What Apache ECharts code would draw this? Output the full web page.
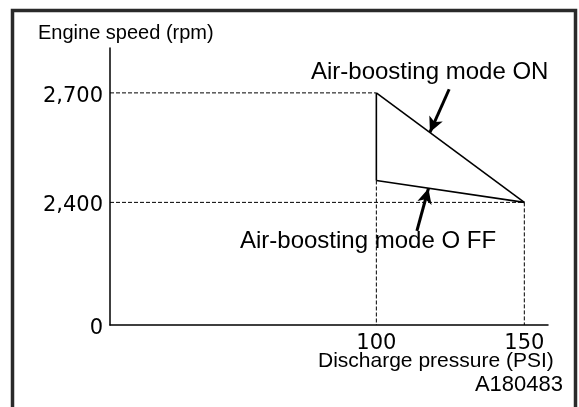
<!DOCTYPE html>
<html>
<head>
<meta charset="utf-8">
<style>
  html, body { margin: 0; padding: 0; background: #fff; }
  #chart { width: 579px; height: 407px; }
</style>
<script src="https://cdn.jsdelivr.net/npm/echarts@6/dist/echarts.min.js"></script>
</head>
<body>
<div id="chart"></div>
<script>
// Discharge pressure (PSI) at the two operating points
const pressures = [100, 150];
// Engine speed (rpm) at those pressures
const speedBoostOn = [2700, 2400];
const speedBoostOff = [2460, 2400];

// The speed axis is broken: its bottom is labelled 0
const speedAxisFloor = 2064;
const speedAxisTop = 2823;
const pressureAxisStart = 10;
const pressureAxisEnd = 158;

const speedTicks = [speedAxisFloor, 2400, 2700];
const speedTickLabels = ['0', '2,400', '2,700'];
const pressureTicks = [100, 150];
const pressureTickLabels = ['100', '150'];

const seriesNames = ['Air-boosting mode ON', 'Air-boosting mode O FF'];

// Arrow annotations [tail, head] in data units
const arrowOn = [[124.6, 2710], [118.1, 2592]];
const arrowOff = [[113.7, 2322], [117.6, 2438]];

const chart = echarts.init(document.getElementById('chart'), null, { renderer: 'canvas' });

const solid = { color: '#000', width: 1.6, type: 'solid' };
const dashed = { color: '#000', width: 1, type: [4, 2] };
const uiFont = '"Liberation Sans", Arial, sans-serif';
const tickFont = '"DejaVu Sans", Verdana, sans-serif';

function path(points, style, z) {
  return {
    type: 'line', data: points, symbol: 'none', silent: true,
    lineStyle: style, z: z || 2, animation: false
  };
}

function arrow(pts) {
  return {
    type: 'line', data: [], symbol: 'none', silent: true, animation: false,
    markLine: {
      silent: true, animation: false,
      symbol: ['none', 'arrow'], symbolSize: [11, 15],
      label: { show: false },
      lineStyle: { color: '#000', width: 3, type: 'solid' },
      data: [[{ coord: pts[0] }, { coord: pts[1] }]]
    }
  };
}

const option = {
  backgroundColor: '#fff',
  animation: false,
  grid: { left: 110, right: 31, top: 48, bottom: 82, containLabel: false },
  xAxis: {
    type: 'value', min: pressureAxisStart, max: pressureAxisEnd,
    axisLine: { show: true, lineStyle: { color: '#000', width: 1.5 } },
    axisTick: { show: false },
    splitLine: { show: false },
    axisLabel: {
      customValues: pressureTicks,
      formatter: v => pressureTickLabels[pressureTicks.indexOf(v)],
      color: '#000', fontFamily: tickFont, fontSize: 21, margin: 8
    }
  },
  yAxis: {
    type: 'value', min: speedAxisFloor, max: speedAxisTop,
    axisLine: { show: true, lineStyle: { color: '#000', width: 1.5 } },
    axisTick: { show: false },
    splitLine: { show: false },
    axisLabel: {
      customValues: speedTicks,
      formatter: v => '{t|' + speedTickLabels[speedTicks.indexOf(v)] + '}',
      margin: 7,
      rich: {
        t: {
          color: '#000', fontFamily: tickFont, fontSize: 21,
          lineHeight: 21, padding: [7, 0, 0, 0]
        }
      }
    }
  },
  series: [
    // guide lines to the axes
    path([[pressureAxisStart, speedBoostOn[0]], [pressures[0], speedBoostOn[0]]], dashed, 1),
    path([[pressureAxisStart, speedBoostOn[1]], [pressures[1], speedBoostOn[1]]], dashed, 1),
    path([[pressures[0], speedBoostOff[0]], [pressures[0], speedAxisFloor]], dashed, 1),
    path([[pressures[1], speedBoostOn[1]], [pressures[1], speedAxisFloor]], dashed, 1),
    // operating envelope
    Object.assign(path(pressures.map((p, i) => [p, speedBoostOn[i]]), solid, 3), { name: seriesNames[0] }),
    Object.assign(path(pressures.map((p, i) => [p, speedBoostOff[i]]), solid, 3), { name: seriesNames[1] }),
    path([[pressures[0], speedBoostOn[0]], [pressures[0], speedBoostOff[0]]], solid, 3),
    arrow(arrowOn),
    arrow(arrowOff)
  ],
  graphic: [
    {
      type: 'rect', silent: true, z: 10,
      shape: { x: 12.5, y: 10.5, width: 563, height: 420 },
      style: { fill: 'none', stroke: '#2a2a2a', lineWidth: 3.5 }
    },
    {
      type: 'text', left: 38, top: 23, silent: true,
      style: { text: 'Engine speed (rpm)', font: '20px ' + uiFont, fill: '#000' }
    },
    {
      type: 'text', left: 311, top: 60, silent: true,
      style: { text: seriesNames[0], font: '24px ' + uiFont, fill: '#000' }
    },
    {
      type: 'text', left: 240, top: 229, silent: true,
      style: { text: seriesNames[1], font: '24px ' + uiFont, fill: '#000' }
    },
    {
      type: 'text', left: 318, top: 351, silent: true,
      style: { text: 'Discharge pressure (PSI)', font: '21px ' + uiFont, fill: '#000' }
    },
    {
      type: 'text', right: 16, top: 374, silent: true,
      style: { text: 'A180483', font: '22px ' + uiFont, fill: '#000' }
    }
  ]
};

chart.setOption(option);
</script>
</body>
</html>
